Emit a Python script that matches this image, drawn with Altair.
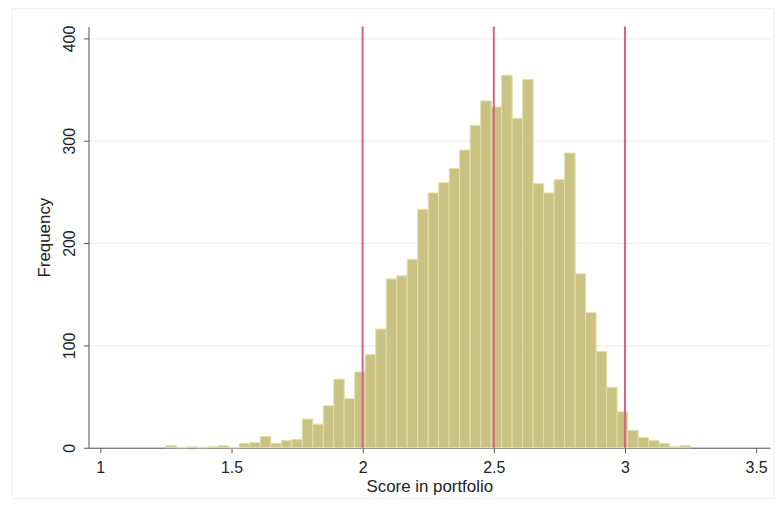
import altair as alt
import pandas as pd

# Histogram bins (left edges), width 0.04
bin_left = [1.25, 1.29, 1.33, 1.37, 1.41, 1.45, 1.49, 1.53, 1.57, 1.61,
            1.65, 1.69, 1.73, 1.77, 1.81, 1.85, 1.89, 1.93, 1.97, 2.01,
            2.05, 2.09, 2.13, 2.17, 2.21, 2.25, 2.29, 2.33, 2.37, 2.41,
            2.45, 2.49, 2.53, 2.57, 2.61, 2.65, 2.69, 2.73, 2.77, 2.81,
            2.85, 2.89, 2.93, 2.97, 3.01, 3.05, 3.09, 3.13, 3.17, 3.21]
counts = [2, 0, 1, 0, 1, 2, 0, 4, 5, 11,
          4, 7, 8, 28, 23, 41, 67, 48, 74, 91,
          116, 165, 168, 184, 233, 249, 259, 273, 291, 315,
          339, 333, 364, 322, 360, 258, 249, 262, 288, 170,
          132, 94, 59, 35, 17, 10, 7, 4, 1, 2]
bin_width = 0.04
ref_lines = [2.0, 2.5, 3.0]
x_ticks = [1, 1.5, 2, 2.5, 3, 3.5]
y_ticks = [0, 100, 200, 300, 400]

df = pd.DataFrame({"left": bin_left, "count": counts})
df["right"] = df["left"] + bin_width
ref_df = pd.DataFrame({"x": ref_lines})

W, H = 686, 424
FONT = "Liberation Sans"
xscale = alt.Scale(domain=[0.955, 3.553], nice=False, zero=False)
yscale = alt.Scale(domain=[0, 411.7], nice=False)

# faint outer frame of the graph region
frame = alt.Chart(pd.DataFrame({"f": [0]})).mark_rect(
    fill=None, stroke="#efefef", strokeWidth=1, clip=False
).encode(
    x=alt.value(-77), x2=alt.value(W + 4),
    y=alt.value(-18), y2=alt.value(H + 51),
)

bars = alt.Chart(df).mark_rect(color="#c9c283", stroke="#e2dfa6", strokeWidth=1).encode(
    x=alt.X("left:Q", scale=xscale,
            axis=alt.Axis(values=x_ticks, format="~g", title="Score in portfolio",
                          grid=False, labelFontSize=16, titleFontSize=17,
                          labelPadding=7, titlePadding=3, tickSize=5,
                          domainColor="#555555", tickColor="#555555",
                          labelColor="#222222", titleColor="#222222",
                          titleFontWeight="normal", labelFont=FONT, titleFont=FONT,
                          labelFlush=False)),
    x2="right",
    y=alt.Y("count:Q", scale=yscale,
            axis=alt.Axis(values=y_ticks, title="Frequency", grid=True,
                          gridColor="#ebebeb", labelAngle=270, labelAlign="center",
                          labelBaseline="bottom", labelFontSize=16, titleFontSize=17,
                          labelPadding=6, titlePadding=8, tickSize=5,
                          domainColor="#555555", tickColor="#555555",
                          labelColor="#222222", titleColor="#222222",
                          titleFontWeight="normal", labelFont=FONT, titleFont=FONT,
                          labelFlush=False)),
    y2=alt.datum(0),
)

rules = alt.Chart(ref_df).mark_rule(color="#d6608a", strokeWidth=2).encode(
    x=alt.X("x:Q", scale=xscale),
    y=alt.value(0),
    y2=alt.value(H),
)

chart = alt.layer(frame, bars, rules).properties(
    width=W, height=H,
    autosize=alt.AutoSizeParams(type="none"),
    padding={"left": 81, "top": 17, "right": 5, "bottom": 54},
    background="white",
).configure_view(stroke=None)

chart.save("out.html", embed_options={"renderer": "svg", "actions": False})
